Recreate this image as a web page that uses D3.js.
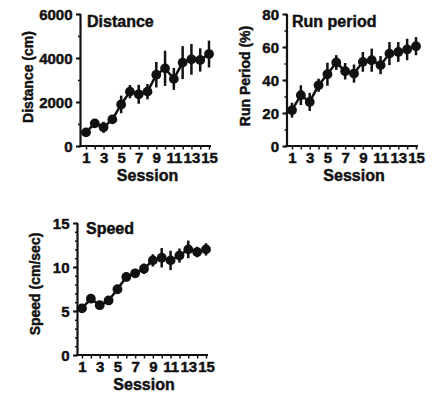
<!DOCTYPE html>
<html><head><meta charset="utf-8">
<script src="https://cdn.jsdelivr.net/npm/d3@7"></script>
<style>body{margin:0;background:#fff}svg{display:block}text{font-family:"Liberation Sans",Arial,sans-serif;font-weight:bold;fill:#111;stroke:#111;stroke-width:0.45px}</style>
</head><body><svg id="c" width="439" height="396"></svg>
<script>
const sessions = d3.range(1, 16);
const xTickLabels = [1, 3, 5, 7, 9, 11, 13, 15];

const distanceMean = [620, 1030, 850, 1210, 1890, 2470, 2350, 2470, 3240, 3530, 3050, 3790, 3940, 3910, 4180];
const distanceErr  = [120, 200, 250, 150, 400, 300, 430, 350, 580, 800, 500, 750, 700, 530, 610];
const distanceTicks = [0, 2000, 4000, 6000];

const runMean = [21.7, 30.8, 26.7, 36.8, 43.5, 50.6, 45.3, 43.9, 51, 52, 49, 56, 57, 58.5, 60.5];
const runErr  = [4.5, 6, 5.5, 4, 7, 4.5, 5, 5.5, 6, 7, 5.5, 7, 6, 6.5, 5.5];
const runTicks = [0, 20, 40, 60, 80];

const speedMean = [5.3, 6.4, 5.66, 6.2, 7.47, 8.87, 9.28, 9.8, 10.75, 11.05, 10.75, 11.3, 12.0, 11.7, 12.0];
const speedErr  = [0.3, 0.3, 0.3, 0.3, 0.5, 0.5, 0.5, 0.6, 0.7, 1.1, 1.1, 0.8, 1.0, 0.6, 0.7];
const speedTicks = [0, 5, 10, 15];

const svg = d3.select("#c");

function panel(o) {
  const g = svg.append("g");
  const x = d3.scaleLinear().domain([1, 15]).range([o.x1, o.x15]);
  const y = d3.scaleLinear().domain([0, o.ymax]).range([o.y0, o.ytop]);
  // minor y ticks
  g.append("g").attr("transform", `translate(${o.ax},0)`)
    .call(d3.axisLeft(y).tickValues(d3.range(0, o.ymax + 1e-9, o.minor)).tickSize(2.5).tickFormat(""))
    .call(s => s.select(".domain").remove())
    .selectAll("line").attr("stroke", "#111").attr("stroke-width", 1.5);
  // major y axis
  const ya = g.append("g").attr("transform", `translate(${o.ax},0)`)
    .call(d3.axisLeft(y).tickValues(o.ticks).tickSize(4.5).tickPadding(3.5).tickSizeOuter(0).tickFormat(d3.format("d")));
  ya.select(".domain").attr("stroke", "#111").attr("stroke-width", 2.2)
    .attr("d", `M0,${o.y0 + 1}V${o.ytop}`);
  ya.selectAll("line").attr("stroke", "#111").attr("stroke-width", 2);
  ya.selectAll("text").style("font-size", "15px").attr("dy", "0.36em");
  // x axis
  const xa = g.append("g").attr("transform", `translate(0,${o.y0})`)
    .call(d3.axisBottom(x).tickValues(sessions).tickSize(3.5).tickPadding(2).tickSizeOuter(0)
      .tickFormat(d => xTickLabels.includes(d) ? d : ""));
  xa.select(".domain").attr("stroke", "#111").attr("stroke-width", 2.2)
    .attr("d", `M${o.ax - 1},0H${x(15) + 2}`);
  xa.selectAll("line").attr("stroke", "#111").attr("stroke-width", 1.5);
  xa.selectAll("text").style("font-size", "15px").attr("dy", "0.75em");
  // labels
  g.append("text").attr("x", (o.x1 + o.x15) / 2).attr("y", o.y0 + 35)
    .attr("text-anchor", "middle").style("font-size", "16px").text("Session");
  g.append("text").attr("transform", `translate(${o.lx},${o.ly}) rotate(-90)`)
    .attr("text-anchor", "middle").style("font-size", "14px").text(o.ylabel);
  g.append("text").attr("x", o.tx).attr("y", o.ty).style("font-size", "16px").text(o.title);
  // error bars
  g.append("g").selectAll("line").data(sessions).join("line")
    .attr("x1", (d) => x(d)).attr("x2", (d) => x(d))
    .attr("y1", (d, i) => y(o.mean[i] - o.err[i])).attr("y2", (d, i) => y(o.mean[i] + o.err[i]))
    .attr("stroke", "#111").attr("stroke-width", 2.5);
  // line
  g.append("path").datum(sessions)
    .attr("d", d3.line().x(d => x(d)).y((d, i) => y(o.mean[i])))
    .attr("fill", "none").attr("stroke", "#111").attr("stroke-width", 2.5);
  // points
  g.append("g").selectAll("circle").data(sessions).join("circle")
    .attr("cx", d => x(d)).attr("cy", (d, i) => y(o.mean[i])).attr("r", 4.9).attr("fill", "#111");
}

panel({ax: 80.5, x1: 86, x15: 209, y0: 146, ytop: 14, ymax: 6000, minor: 1000, ticks: distanceTicks,
  mean: distanceMean, err: distanceErr, ylabel: "Distance (cm)", lx: 33, ly: 77, title: "Distance", tx: 87, ty: 27});
panel({ax: 287, x1: 292, x15: 416, y0: 146, ytop: 14, ymax: 80, minor: 10, ticks: runTicks,
  mean: runMean, err: runErr, ylabel: "Run Period (%)", lx: 250, ly: 76, title: "Run period", tx: 292, ty: 27});
panel({ax: 77.5, x1: 82, x15: 206, y0: 355, ytop: 223, ymax: 15, minor: 1, ticks: speedTicks,
  mean: speedMean, err: speedErr, ylabel: "Speed (cm/sec)", lx: 40, ly: 284, title: "Speed", tx: 86, ty: 234});
</script></body></html>
